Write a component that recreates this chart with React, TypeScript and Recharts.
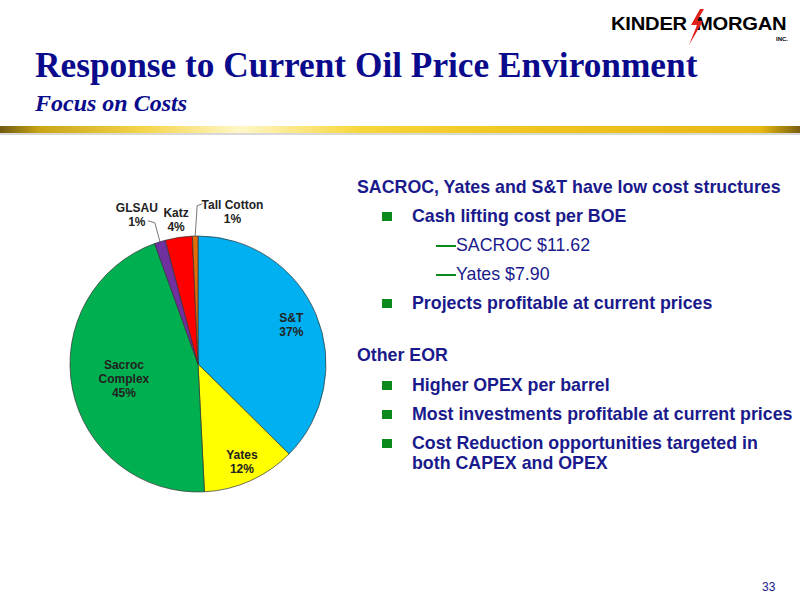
import React from 'react';
import { PieChart, Pie, Cell } from 'recharts';

// slice data, clockwise from 12 o'clock
const fields = ['S&T', 'Yates', 'Sacroc Complex', 'GLSAU', 'Katz', 'Tall Cotton'];
const shares = [37.4, 11.8, 45.3, 1.4, 3.4, 0.7];
const shareLabels = ['37%', '12%', '45%', '1%', '4%', '1%'];
const sliceColors = ['#00B0F0', '#FFFF00', '#00B050', '#7030A0', '#FF0000', '#E36C09'];

// label placement (radius factor, angle shift in degrees clockwise)
const labelRadius = [0.79, 0.84, 0.59, 1.26, 1.14, 1.22];
const labelShift = [0, 0, 0, -5, 0, 14];

const pieData = fields.map((name, i) => ({ name, value: shares[i], pct: shareLabels[i] }));

const NAVY = '#1A1A8C';
const RADIAN = Math.PI / 180;

const SliceLabel = (props: any) => {
  const { cx, cy, midAngle, outerRadius, index } = props;
  const ang = (midAngle - labelShift[index]) * RADIAN;
  const r = outerRadius * labelRadius[index];
  const x = cx + r * Math.cos(ang);
  const y = cy - r * Math.sin(ang);
  const name = fields[index];
  const lines = name === 'Sacroc Complex' ? ['Sacroc', 'Complex', shareLabels[index]] : [name, shareLabels[index]];
  const lh = 14;
  const y0 = y - ((lines.length - 1) * lh) / 2 + 4;
  const ex = cx + outerRadius * Math.cos(midAngle * RADIAN);
  const ey = cy - outerRadius * Math.sin(midAngle * RADIAN);
  let leader = null;
  if (name === 'GLSAU') {
    leader = <path d={`M${x + 11},${y + 6} L${x + 18},${y + 8} L${ex},${ey}`} stroke="#555" fill="none" strokeWidth={0.8} />;
  } else if (name === 'Tall Cotton') {
    leader = <path d={`M${ex},${ey} L${ex + 2},${y - 6} L${x - 30},${y - 8}`} stroke="#555" fill="none" strokeWidth={0.8} />;
  }
  return (
    <g>
      {leader}
      <text x={x} y={y0} textAnchor="middle" fill="#222" fontSize={12} fontWeight="bold" fontFamily="'Liberation Sans', Arial, sans-serif">
        {lines.map((t, i) => (
          <tspan key={i} x={x} dy={i === 0 ? 0 : lh}>{t}</tspan>
        ))}
      </text>
    </g>
  );
};

const Bullet = ({ top, children }: { top: number; children: React.ReactNode }) => (
  <div style={{ position: 'absolute', left: 382, top, display: 'flex' }}>
    <div style={{ width: 10, height: 9, background: '#0B8A1B', marginTop: 6, marginRight: 20 }} />
    <div>{children}</div>
  </div>
);

const Dash = ({ top, children }: { top: number; children: React.ReactNode }) => (
  <div style={{ position: 'absolute', left: 436, top, fontWeight: 'normal', display: 'flex', alignItems: 'center' }}>
    <div style={{ width: 20, height: 1.5, background: '#0B8A1B', marginTop: 2 }} />
    <span>{children}</span>
  </div>
);

export default function App() {
  return (
    <div style={{ position: 'absolute', left: 0, top: 0, width: 800, height: 600, background: '#fff', overflow: 'hidden', fontFamily: "'Liberation Sans', Arial, sans-serif" }}>
      {/* logo */}
      <div style={{ position: 'absolute', left: 611, top: 14, fontWeight: 'bold', fontSize: 18, lineHeight: '20px', letterSpacing: -0.2, color: '#000', whiteSpace: 'nowrap', transform: 'scaleX(1.12)', transformOrigin: 'left' }}>
        <span style={{ marginRight: 8 }}>KINDER</span>
        <span>MORGAN</span>
      </div>
      <svg width={16} height={36} style={{ position: 'absolute', left: 688, top: 9 }}>
        <polygon points="12,0 3,16 9,16 1,36 15,12 9,12 16,0" fill="#E0201B" />
      </svg>
      <div style={{ position: 'absolute', left: 776, top: 36, fontSize: 6, fontWeight: 'bold', lineHeight: '7px' }}>INC.</div>

      {/* title */}
      <div style={{ position: 'absolute', left: 35, top: 46, fontFamily: "'Liberation Serif', 'Times New Roman', serif", fontWeight: 'bold', fontSize: 35.3, color: '#0A0A8C', whiteSpace: 'nowrap' }}>
        Response to Current Oil Price Environment
      </div>
      <div style={{ position: 'absolute', left: 35, top: 90, fontFamily: "'Liberation Serif', 'Times New Roman', serif", fontWeight: 'bold', fontStyle: 'italic', fontSize: 24, color: '#0A0A8C' }}>
        Focus on Costs
      </div>
      <div style={{ position: 'absolute', left: 0, top: 126, width: 800, height: 7, background: 'linear-gradient(90deg, #6E5A10 0%, #C9A516 5%, #F5D54A 18%, #FFF7C8 30%, #F7D63A 45%, #EFC21C 70%, #E8B912 95%, #7A6010 100%)' }} />
      <div style={{ position: 'absolute', left: 0, top: 133, width: 800, height: 2, background: '#d8d8d8' }} />

      {/* pie */}
      <div style={{ position: 'absolute', left: 60, top: 190 }}>
        <PieChart width={280} height={320}>
          <Pie
            data={pieData}
            dataKey="value"
            nameKey="name"
            cx={133}
            cy={169}
            outerRadius={128}
            startAngle={90}
            endAngle={-270}
            stroke="#333"
            strokeWidth={0.7}
            label={SliceLabel}
            labelLine={false}
            isAnimationActive={false}
          >
            {pieData.map((d, i) => (
              <Cell key={d.name} fill={sliceColors[i]} />
            ))}
          </Pie>
        </PieChart>
      </div>

      {/* right text */}
      <div style={{ position: 'absolute', left: 0, top: 0, width: 800, height: 600, color: NAVY, fontWeight: 'bold', fontSize: 17.8, lineHeight: '20px', whiteSpace: 'nowrap' }}>
        <div style={{ position: 'absolute', left: 357, top: 177 }}>SACROC, Yates and S&amp;T have low cost structures</div>
        <Bullet top={206}>Cash lifting cost per BOE</Bullet>
        <Dash top={235}>SACROC $11.62</Dash>
        <Dash top={264}>Yates $7.90</Dash>
        <Bullet top={293}>Projects profitable at current prices</Bullet>
        <div style={{ position: 'absolute', left: 357, top: 345 }}>Other EOR</div>
        <Bullet top={375}>Higher OPEX per barrel</Bullet>
        <Bullet top={404}>Most investments profitable at current prices</Bullet>
        <Bullet top={433}>Cost Reduction opportunities targeted in<br />both CAPEX and OPEX</Bullet>
        <div style={{ position: 'absolute', left: 762, top: 577, fontWeight: 'normal', fontSize: 12 }}>33</div>
      </div>
    </div>
  );
}
